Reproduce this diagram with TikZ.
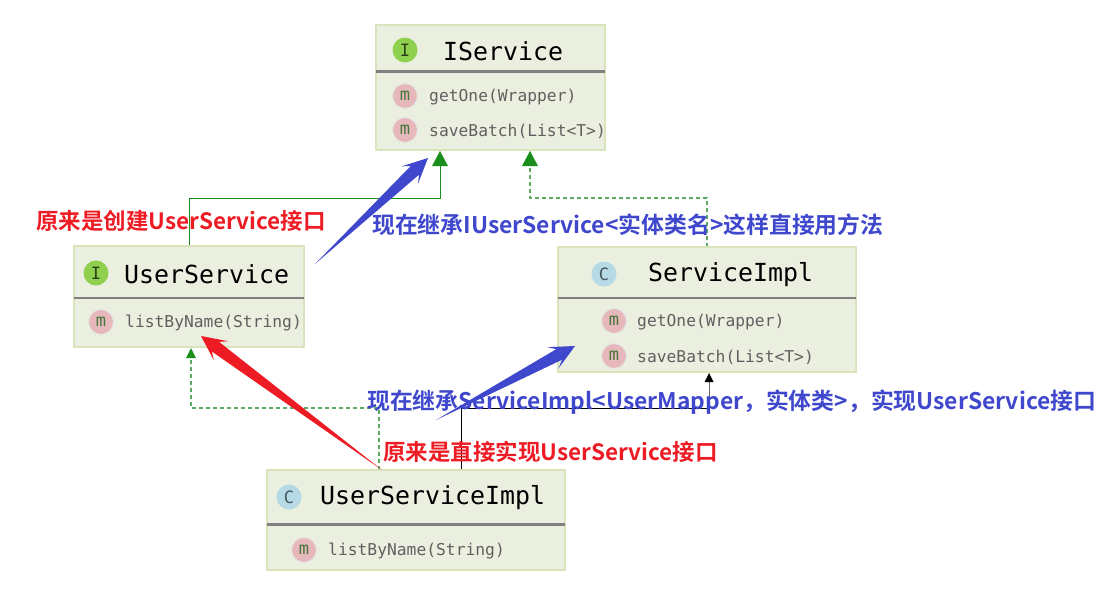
\documentclass[tikz,border=0pt]{standalone}
\usepackage{fontspec}
\setmonofont{DejaVu Sans Mono}
\newfontfamily\cjk{Noto Sans CJK SC}[BoldFont={Noto Sans CJK SC Bold}]
\usetikzlibrary{calc,arrows.meta}
\definecolor{boxfill}{HTML}{EBEFDF}
\definecolor{boxedge}{HTML}{D9E4BC}
\definecolor{divider}{HTML}{808080}
\definecolor{umlgreen}{HTML}{1B8F1B}
\definecolor{dashgreen}{HTML}{5CAB62}
\definecolor{fatblue}{HTML}{3F48CC}
\definecolor{fatred}{HTML}{ED1C24}
\definecolor{memtext}{HTML}{606060}
\definecolor{mfill}{HTML}{E6B8BC}
\definecolor{iconI}{HTML}{8FD14F}
\definecolor{iconC}{HTML}{B5DAE6}
\tikzset{
  classbox/.style={draw=boxedge,fill=boxfill,line width=2pt,anchor=north west,inner sep=0pt,outer sep=0pt},
  sep/.style={draw=divider,line width=2.2pt},
  iconbase/.style={circle,minimum size=25pt,inner sep=0pt,font=\ttfamily\fontsize{17}{17}\selectfont},
  icontypeI/.style={iconbase,fill=iconI,text=black!70!iconI},
  icontypeC/.style={iconbase,fill=iconC,text=black!60!iconC},
  iconm/.style={iconbase,fill=mfill,draw=black!10,line width=1pt,text=black!65!green!70!mfill},
  cname/.style={anchor=west,inner sep=0pt,font=\ttfamily\fontsize{24.9}{25}\selectfont,text=black},
  mname/.style={anchor=west,inner sep=0pt,font=\ttfamily\fontsize{16.3}{17}\selectfont,text=memtext},
  gsolid/.style={draw=umlgreen,line width=1pt},
  gdash/.style={draw=dashgreen,line width=1.2pt,dash pattern=on 4pt off 3pt},
  blk/.style={draw=black,line width=1pt},
  note/.style={anchor=west,inner sep=0pt,font=\cjk\bfseries\fontsize{22.85}{25}\selectfont},
  rednote/.style={anchor=west,inner sep=0pt,font=\cjk\bfseries\fontsize{22.5}{25}\selectfont},
}
\newcommand{\fatarrow}[3]{%
  \fill[#3] (#1)
    -- ($(#2)!18pt!(#1)!6pt!90:(#1)$)
    -- ($(#2)!25pt!(#1)!12pt!90:(#1)$)
    -- (#2)
    -- ($(#2)!25pt!(#1)!12pt!-90:(#1)$)
    -- ($(#2)!18pt!(#1)!6pt!-90:(#1)$)
    -- cycle;}
\begin{document}
\begin{tikzpicture}[x=1pt,y=-1pt]
\useasboundingbox (0,0) rectangle (1115,590);
% connector waypoints
\coordinate (t1) at (440,151);
\coordinate (t2) at (530,151);
\coordinate (t3) at (191,348);
\coordinate (t4) at (709,373);
\coordinate (b1) at (440,198);
\coordinate (b1w) at (189,198);
\coordinate (b2) at (530,198);
\coordinate (b2e) at (707,198);
\coordinate (b3) at (191,408);
\coordinate (b3e) at (379,408);
\coordinate (b4) at (709,408);
\coordinate (b4w) at (461,408);
\coordinate (s3) at (379,470);
\coordinate (s4) at (461,470);
\coordinate (s2) at (707,247);
% connectors
\draw[gsolid] (189,246) -- (b1w) -- (b1) -- (440,160);
\draw[gdash] (s2) -- (b2e) -- (b2) -- (530,166);
\draw[gdash] (s3) -- (b3e) -- (b3) -- (191,358);
\draw[blk] (s4) -- (b4w) -- (b4);
\draw[draw=black!60,line width=1pt] (b4) -- (709,380);
\fill[umlgreen] (t1) -- (448,166) -- (432,166) -- cycle;
\fill[umlgreen] (t2) -- (538,166) -- (522,166) -- cycle;
\fill[umlgreen] (t3) -- (196,358) -- (186,358) -- cycle;
\fill[black] (t4) -- (713.5,382) -- (704.5,382) -- cycle;
% IService
\node[classbox,minimum width=229pt,minimum height=125pt] (iservice) at (376,25) {};
\draw[sep] (iservice.west |- 0,71.5) -- (iservice.east |- 0,71.5);
\node[icontypeI] (ii) at (405,50) {I};
\node[cname] (iin) at (443,51) {IService};
\node[iconm] (im1) at (405,96) {m};
\node[mname] (im1t) at (429,97) {getOne(Wrapper)};
\node[iconm] (im2) at (405,130) {m};
\node[mname] (im2t) at (429,131) {saveBatch(List<T>)};
% UserService
\node[classbox,minimum width=230pt,minimum height=101pt] (us) at (74,246) {};
\draw[sep] (us.west |- 0,298) -- (us.east |- 0,298);
\node[icontypeI] (ui) at (96,273) {I};
\node[cname] (uin) at (124,274) {UserService};
\node[iconm] (um1) at (101,322) {m};
\node[mname] (um1t) at (125,323) {listByName(String)};
% ServiceImpl
\node[classbox,minimum width=298pt,minimum height=125pt] (si) at (558,247) {};
\draw[sep] (si.west |- 0,298) -- (si.east |- 0,298);
\node[icontypeC] (sic) at (604,274) {C};
\node[cname] (sin) at (648,275) {ServiceImpl};
\node[iconm] (sm1) at (614,321) {m};
\node[mname] (sm1t) at (637,322) {getOne(Wrapper)};
\node[iconm] (sm2) at (614,356) {m};
\node[mname] (sm2t) at (637,357) {saveBatch(List<T>)};
% UserServiceImpl
\node[classbox,minimum width=298pt,minimum height=100pt] (usi) at (267,470) {};
\draw[sep] (usi.west |- 0,524.5) -- (usi.east |- 0,524.5);
\node[icontypeC] (uic) at (289,497) {C};
\node[cname] (uicn) at (320,498) {UserServiceImpl};
\node[iconm] (uim) at (304,550) {m};
\node[mname] (uimt) at (328,551) {listByName(String)};
% fat annotation arrows
\coordinate (a1) at (315,264); \coordinate (a1t) at (428,158);
\coordinate (a2) at (436,420); \coordinate (a2t) at (575,346);
\coordinate (a3) at (382,470); \coordinate (a3t) at (201,336);
\fatarrow{a1}{a1t}{fatblue}
\fatarrow{a2}{a2t}{fatblue}
\fatarrow{a3}{a3t}{fatred}
% annotations
\node[rednote,text=fatred] (n1) at (36,221) {原来是创建UserService接口};
\node[note,text=fatblue] (n2) at (372,224.5) {现在继承IUserService<实体类名>这样直接用方法};
\node[note,text=fatblue] (n3) at (367,402) {现在继承ServiceImpl<UserMapper，实体类>，实现UserService接口};
\node[rednote,text=fatred] (n4) at (383,451.5) {原来是直接实现UserService接口};
\end{tikzpicture}
\end{document}
